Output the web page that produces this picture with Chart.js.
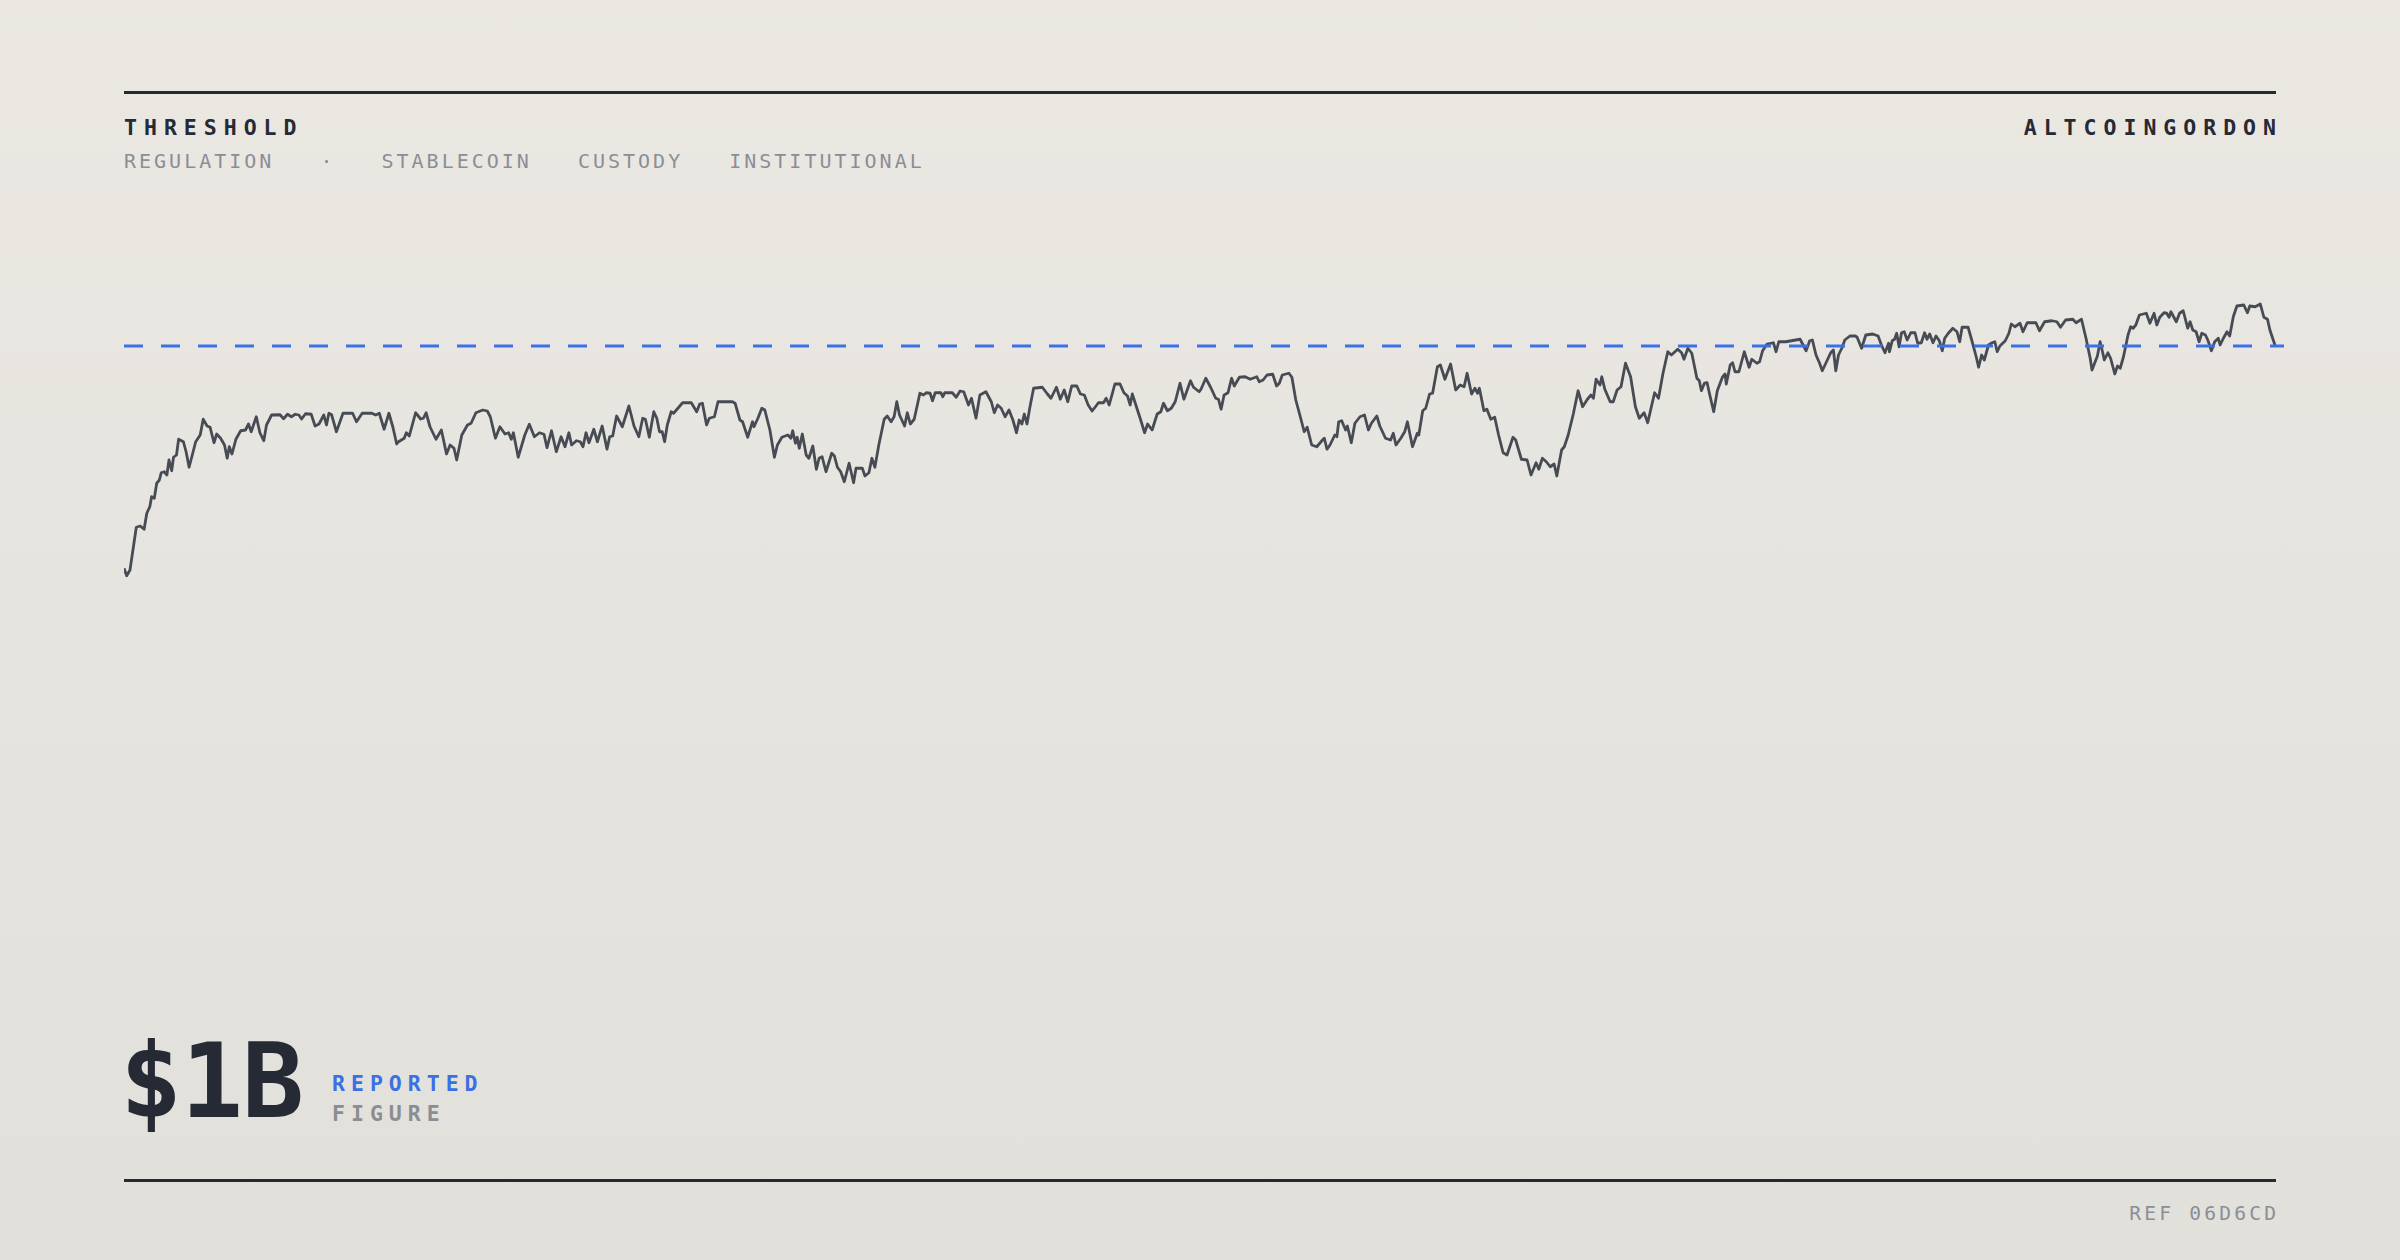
<!DOCTYPE html>
<html>
<head>
<meta charset="utf-8">
<title>Threshold</title>
<script src="https://cdn.jsdelivr.net/npm/chart.js@4.4.1/dist/chart.umd.min.js"></script>
<style>
    html, body { margin: 0; padding: 0; }
    body {
        width: 2400px; height: 1260px; position: relative; overflow: hidden;
        background: linear-gradient(180deg, #ebe8e2 0%, #e1e0db 100%);
        font-family: "DejaVu Sans Mono", "Liberation Mono", monospace;
        color: #262a35;
    }
    .rule { position: absolute; left: 124px; width: 2152px; height: 3px; background: #262a35; }
    .txt { position: absolute; white-space: nowrap; line-height: 1; }
    .head { font-size: 21.5px; font-weight: bold; letter-spacing: 7px; }
    .tags { font-size: 20px; letter-spacing: 3px; color: #8b8e95; display: flex; gap: 46px; }
    .big { font-size: 103px; font-weight: bold; letter-spacing: -1px; }
    .sub { font-size: 21.5px; font-weight: bold; letter-spacing: 6px; }
    .ref { font-size: 19.6px; letter-spacing: 3.2px; color: #8b8e95; }
    #chartBox { position: absolute; left: 124px; top: 221px; }
</style>
</head>
<body>
<div class="rule" style="top:91px"></div>
<div class="txt head" style="left:124px; top:116.6px">THRESHOLD</div>
<div class="txt head" style="right:124px; top:116.6px; margin-right:-7px">ALTCOINGORDON</div>
<div class="txt tags" id="tags" style="left:124px; top:151.2px"></div>

<canvas id="chartBox" width="2166" height="375"></canvas>

<div class="txt big" style="left:120px; top:1030px">$1B</div>
<div class="txt sub" style="left:332px; top:1072.6px; color:#3a6fe6">REPORTED</div>
<div class="txt sub" style="left:332px; top:1102.6px; color:#8b8d93">FIGURE</div>
<div class="rule" style="top:1179px"></div>
<div class="txt ref" style="right:124px; top:1203.6px; margin-right:-3.2px">REF 06D6CD</div>

<script>
// tags under the title
var tags = ["REGULATION", "\u00b7", "STABLECOIN", "CUSTODY", "INSTITUTIONAL"];

// threshold, in $M
var threshold = 1000;

// day index of each reading
var days = [
    0, 0.9, 2.0, 4.1, 5.4, 6.7, 7.6, 8.6, 9.2, 10.1,
    10.9, 11.8, 12.4, 13.4, 14.3, 15.0, 15.9, 16.5, 17.5, 18.2,
    19.8, 20.7, 21.7, 23.9, 25.4, 26.4, 27.7, 28.7, 30.0, 30.9,
    32.2, 33.5, 34.4, 35.1, 36.0, 37.3, 38.9, 40.5, 41.5, 42.4,
    44.1, 45.3, 46.6, 47.5, 49.2, 52.0, 53.2, 54.5, 55.8, 57.1,
    58.3, 59.2, 60.5, 62.4, 63.7, 65.0, 66.6, 67.5, 68.3, 69.2,
    70.8, 73.0, 76.2, 77.5, 79.4, 82.6, 83.9, 85.1, 86.7, 88.3,
    89.6, 90.9, 91.5, 93.4, 94.1, 95.1, 97.2, 98.9, 99.8, 100.7,
    102.0, 104.0, 105.8, 107.5, 108.7, 110.0, 110.9, 112.6, 114.5, 115.7,
    117.3, 119.6, 121.1, 122.1, 123.8, 125.3, 127.0, 128.2, 129.1, 129.8,
    131.4, 133.6, 135.1, 136.8, 138.5, 140.0, 141.0, 142.5, 144.1, 145.7,
    147.0, 148.3, 149.2, 150.8, 152.1, 153.0, 154.0, 155.0, 156.6, 157.8,
    159.4, 161.0, 161.9, 162.9, 164.2, 166.1, 168.3, 170.0, 171.6, 172.9,
    173.8, 175.1,
    176.6, 177.6, 178.5, 179.4, 180.2, 181.1, 182.4, 183.2, 186.2, 189.1,
    190.9, 191.9, 192.8, 194.2, 195.1, 196.8, 198.0, 202.8, 203.7, 205.3,
    206.2, 207.9, 209.5, 210.0, 211.3, 212.6, 213.6, 215.3, 216.8, 217.8,
    219.3, 221.3, 222.3, 222.9, 223.8, 224.4, 225.1, 226.1, 227.4, 228.3,
    229.6, 230.8, 231.7, 232.7, 234.0, 235.9, 236.8, 237.8, 238.9, 240.1,
    241.7, 243.2, 244.0, 246.1, 247.0, 248.3, 249.3, 250.3, 251.6, 253.4,
    254.4, 255.7, 256.7, 257.6, 258.5, 260.2, 261.1, 262.1, 263.4, 265.3,
    266.5, 267.4, 268.7, 269.5, 270.4, 272.3, 272.9, 273.6, 276.1, 277.4,
    278.7, 279.9, 281.5, 282.5, 284.0, 285.3, 287.3, 289.1, 290.1, 291.2,
    292.4, 293.7, 295.0, 296.3, 297.5, 298.4, 299.3, 300.1, 301.0, 301.9,
    303.2, 306.1, 307.8, 309.0, 310.8, 312.1, 313.4, 314.6, 315.9, 317.6,
    318.8, 320.1, 321.4, 322.7, 324.0, 324.8, 326.5, 327.4, 328.4, 330.3,
    332.0, 333.3, 334.5, 335.4, 336.1, 338.9, 340.2, 341.2, 342.7, 344.4,
    345.6, 346.5, 347.8, 349.1, 350.4, 352.0, 353.3, 355.5, 356.5, 358.4,
    359.0, 360.6, 362.2, 363.9, 364.8, 365.7, 366.7, 368.0, 369.2, 370.1,
    371.8, 373.7, 375.4,
    377.6, 378.4, 379.7, 381.0, 382.9, 384.2, 385.1, 386.1, 388.3, 389.3,
    390.6, 392.1, 393.4, 394.4, 395.9, 397.6, 399.5, 400.1, 401.0, 402.0,
    403.6, 404.3, 404.9, 405.9, 407.2, 407.8, 409.1, 410.3, 412.0, 413.5,
    414.8, 415.8, 417.6, 418.6, 420.5, 422.2, 423.1, 424.0, 425.6, 426.9,
    427.8, 429.5, 431.1, 431.6, 432.9, 433.9, 435.2, 436.2, 437.8, 438.8,
    440.3, 442.2, 443.9, 445.4, 446.7, 447.7, 449.2, 450.3, 451.2, 451.8,
    453.3, 454.3, 455.6, 456.9, 458.2, 459.7, 461.0, 463.0, 463.9, 465.8,
    467.7, 469.0, 470.7, 471.6, 472.8, 474.1, 475.4, 476.7, 477.6, 479.2,
    480.1, 481.4, 483.1, 484.7, 486.2, 487.8, 489.0, 489.8, 490.7, 492.0,
    492.6, 493.6, 495.4, 496.4, 497.7, 499.0, 500.5, 502.2, 503.8, 505.1,
    506.7, 507.9, 510.2, 511.5, 513.0, 514.6, 515.8, 517.9, 519.2, 520.0,
    521.3, 522.6, 524.3, 525.1, 525.8, 526.8, 527.7, 528.6, 529.9, 531.1,
    532.8, 533.7, 534.1, 535.4, 536.2, 537.0, 538.3, 540.1, 541.7, 542.6,
    544.3, 545.2, 546.2, 547.7, 549.8, 550.7, 551.6, 553.9, 555.8, 558.7,
    560.7, 561.9, 562.8, 564.0, 565.2, 566.1, 567.5, 568.9, 569.8, 570.6,
    571.5, 572.6, 573.6, 575.3, 577.1, 577.7, 579.2, 580.6, 582.9, 584.7,
    585.8, 587.0, 588.2, 588.5, 589.4, 590.2, 590.9, 591.7, 592.5, 593.4,
    594.4, 595.6, 597.0, 597.9, 599.1, 600.2, 601.0, 601.9, 603.0, 604.0,
    605.1, 606.1, 606.9, 608.1, 609.6, 611.0, 611.9, 612.7, 614.7, 615.9,
    617.4, 618.2, 619.2, 620.1, 621.5, 622.7, 623.6, 624.4, 625.3, 627.1,
    628.3, 629.1, 630.3, 632.0, 633.0, 634.4, 637.3, 638.5, 640.2, 642.6,
    644.3, 645.5, 647.2, 649.6, 650.7, 652.5, 654.0, 655.4, 656.0, 657.8,
    658.7, 659.5, 660.1, 661.3, 662.2, 663.6, 664.5, 665.4, 666.5, 668.0,
    668.9, 669.7, 670.6, 671.8, 674.1, 675.3, 676.7, 677.6, 678.6, 680.0,
    680.9, 681.7, 682.3, 684.1, 685.2, 686.4, 687.9, 688.7, 689.6, 690.7,
    691.7, 692.6, 693.8, 694.6, 695.8, 696.9, 698.1, 698.7, 699.8, 701.0,
    701.9, 703.1, 704.3, 706.6, 707.8, 708.6, 710.4, 712.1, 713.3, 714.5,
    715.3, 717.0
];

// reported figure, $M
var reported = [
    111, 81, 104, 275, 280, 267, 331, 357, 397, 391,
    451, 464, 493, 497, 484, 544, 501, 555, 564, 627,
    617, 577, 515, 617, 644, 707, 680, 675, 613, 648,
    631, 604, 551, 597, 568, 627, 661, 664, 688, 657,
    717, 653, 621, 684, 724, 725, 709, 727, 717, 727,
    724, 708, 729, 727, 680, 688, 724, 684, 731, 725,
    657, 731, 731, 697, 731, 731, 724, 731, 667, 731,
    677, 608, 617, 631, 653, 640, 733, 708, 711, 733,
    677, 627, 664, 568, 604, 591, 544, 644, 684, 691,
    733, 744, 740, 717, 631, 677, 648, 653, 627, 653,
    555, 644, 687, 637, 653, 647, 593, 661, 577, 637,
    597, 653, 604, 621, 617, 597, 653, 613, 667, 617,
    680, 587, 637, 640, 720, 677, 760, 680, 637, 711,
    707, 635,
    737, 711, 657, 657, 617, 684, 737, 731, 773, 773,
    737, 768, 771, 684, 711, 717, 777, 777, 771, 704,
    697, 635, 697, 677, 711, 751, 744, 664, 555, 604,
    635, 644, 631, 661, 611, 635, 591, 648, 564, 551,
    600, 507, 551, 557, 497, 571, 560, 515, 497, 457,
    531, 453, 511, 511, 480, 493, 551, 515, 604, 707,
    720, 697, 717, 777, 724, 680, 733, 688, 707, 811,
    804, 813, 811, 781, 813, 813, 797, 813, 813, 795,
    820, 817, 764, 791, 711, 804, 817, 777, 733, 764,
    751, 717, 744, 704, 653, 704, 688, 728, 688, 751,
    831, 835, 808, 791, 835, 787, 824, 777, 840, 840,
    808, 804, 764, 740, 760, 773, 773, 791, 764, 848,
    848, 813, 800, 764, 808, 704, 653, 688, 664, 728,
    737, 771, 741, 751, 777, 851, 787, 861, 835, 817,
    827, 871, 835, 791, 787, 747, 804, 813, 871, 840,
    875, 877, 867,
    877, 857, 864, 884, 887, 840, 851, 884, 891, 875,
    784, 717, 657, 675, 604, 597, 624, 631, 587, 604,
    644, 637, 697, 701, 664, 680, 613, 691, 717, 724,
    664, 691, 720, 680, 631, 624, 651, 604, 631, 657,
    697, 597, 651, 644, 741, 751, 808, 811, 917, 924,
    867, 928, 824, 844, 837, 891, 808, 831, 811, 831,
    741, 747, 707, 715, 644, 573, 564, 635, 624, 547,
    544, 484, 533, 507, 551, 537, 517, 528, 480, 584,
    597, 644, 728, 821, 757, 787, 804, 791, 867, 844,
    877, 827, 777, 777, 824, 837, 931, 877, 757, 711,
    733, 693, 813, 791, 891, 977, 964, 987, 973, 947,
    991, 971, 871, 861, 821, 851, 853, 804, 737, 821,
    875, 888, 848, 924, 933, 897, 897, 977, 915, 947,
    931, 937, 981, 1008, 1013, 977, 1017, 1017, 1021, 1027,
    981, 1021, 1024, 964, 931, 901, 937, 973, 984, 901,
    964, 991, 1024, 1040, 1040, 1035, 991, 1044, 1048, 1040,
    1004, 973, 1011, 977, 1021, 1027, 1051, 997, 1053, 1057,
    1024, 1053, 1053, 1011, 1013, 1053, 1027, 1048, 1013, 1040,
    1021, 981, 1031, 1051, 1071, 1057, 1017, 1075, 1075, 1024,
    957, 915, 964, 944, 1004, 1013, 1017, 977, 1000, 1021,
    1051, 1088, 1077, 1091, 1057, 1093, 1093, 1061, 1097, 1101,
    1097, 1075, 1104, 1107, 1093, 1107, 1031, 951, 904, 960,
    1017, 977, 944, 973, 951, 888, 920, 911, 957, 1044,
    1077, 1071, 1084, 1124, 1131, 1091, 1131, 1084, 1115, 1133,
    1131, 1115, 1137, 1097, 1131, 1141, 1071, 1097, 1064, 1057,
    1017, 1051, 1044, 1024, 981, 1017, 1031, 1004, 1031, 1057,
    1040, 1117, 1160, 1164, 1133, 1160, 1157, 1168, 1115, 1107,
    1064, 1003
];

// threshold line runs a little past the last reading
var thresholdDays = [0, 720];

var tagBox = document.getElementById("tags");
tags.forEach(function (t) {
    var s = document.createElement("span");
    s.textContent = t;
    tagBox.appendChild(s);
});

var linePoints = days.map(function (d, i) {
    return { x: d, y: reported[i] };
});
var thresholdPoints = thresholdDays.map(function (d) {
    return { x: d, y: threshold };
});

var ctx = document.getElementById("chartBox").getContext("2d");
new Chart(ctx, {
    type: 'line',
    data: {
        datasets: [
            {
                label: 'Threshold',
                data: thresholdPoints,
                borderColor: '#3a70e8',
                borderWidth: 3,
                borderDash: [19, 18],
                pointRadius: 0,
                order: 0
            },
            {
                label: 'Reported',
                data: linePoints,
                borderColor: '#474b53',
                borderWidth: 2.8,
                borderJoinStyle: 'round',
                tension: 0,
                pointRadius: 0,
                order: 1
            }
        ]
    },
    options: {
        responsive: false,
        animation: false,
        events: [],
        layout: { padding: 0 },
        plugins: {
            legend: { display: false },
            tooltip: { enabled: false }
        },
        scales: {
            x: { type: 'linear', display: false, min: 0, max: 722 },
            y: { display: false, min: 0, max: 1500 }
        }
    }
});
</script>
</body>
</html>
